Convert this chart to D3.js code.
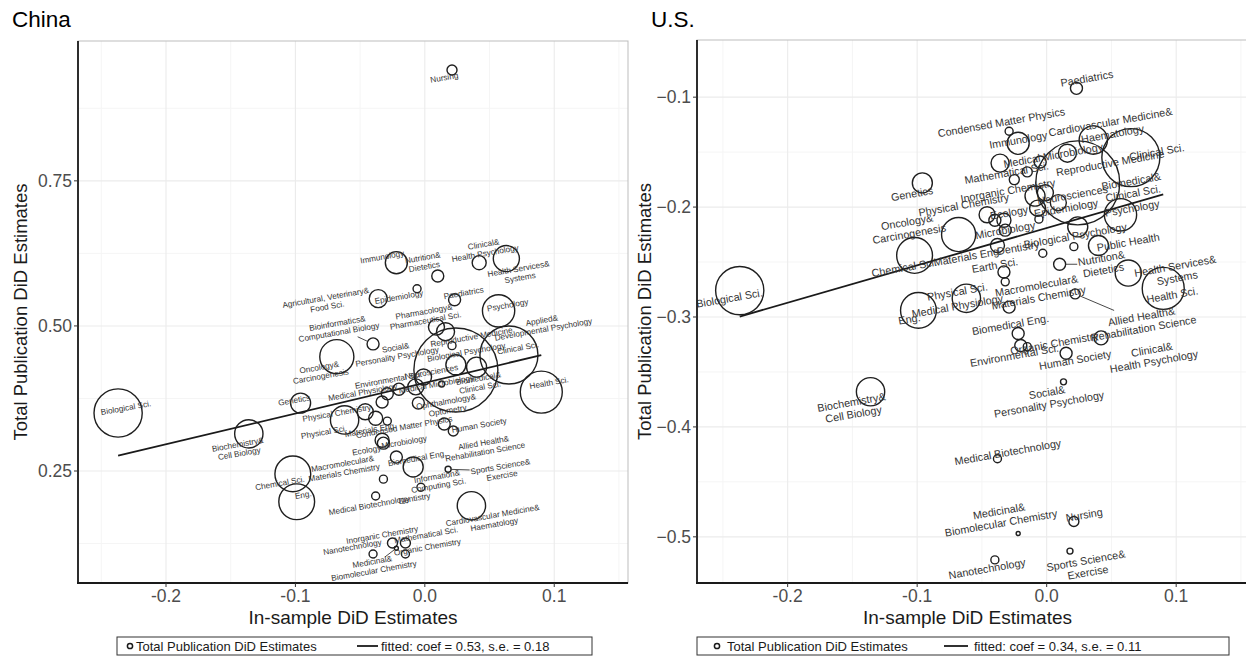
<!DOCTYPE html>
<html><head><meta charset="utf-8">
<script src="https://cdn.jsdelivr.net/npm/d3@7"></script>
<style>
body{margin:0;background:#fff;}
svg text{font-family:"Liberation Sans",Arial,Helvetica,sans-serif;}
</style>
</head><body>
<svg id="chart" width="1246" height="658"></svg>
<script>
// ---------------- DATA ----------------
const fields = [
 "Biological Sci.","Biochemistry& Cell Biology","Chemical Sci.","Eng.","Genetics",
 "Oncology& Carcinogenesis","Physical Sci.","Physical Chemistry","Bioinformatics& Computational Biology","Nanotechnology",
 "Materials Eng.","Medical Biotechnology","Agricultural, Veterinary& Food Sci.","Earth Sci.","Ecology",
 "Microbiology","Macromolecular& Materials Chemistry","Medical Physiology","Condensed Matter Physics","Inorganic Chemistry",
 "Biomedical Eng.","Medicinal& Biomolecular Chemistry","Immunology","Environmental Sci.","Mathematical Sci.",
 "Organic Chemistry","Information& Computing Sci.","Applied& Developmental Psychology","Epidemiology","Ophthalmology& Optometry",
 "Dentistry","Neurosciences","Pharmacology& Pharmaceutical Sci.","Nutrition& Dietetics","Social& Personality Psychology",
 "Human Society","Medical Microbiology","Sports Science& Exercise","Nursing","Reproductive Medicine",
 "Allied Health& Rehabilitation Science","Paediatrics","Biomedical& Clinical Sci.","Biological Psychology","Cardiovascular Medicine& Haematology",
 "Public Health","Clinical& Health Psychology","Psychology","Health Services& Systems","Clinical Sci.",
 "Health Sci."
];
// In-sample DiD estimate (x, shared by both panels)
const inSampleDiD = [
 -0.237,-0.136,-0.102,-0.099,-0.096,
 -0.068,-0.062,-0.046,-0.040,-0.040,
 -0.038,-0.038,-0.036,-0.033,-0.033,
 -0.032,-0.032,-0.029,-0.029,-0.025,
 -0.022,-0.022,-0.022,-0.020,-0.015,
 -0.015,-0.009,-0.007,-0.006,-0.005,
 -0.003,-0.001,0.009,0.010,0.013,
 0.015,0.016,0.018,0.021,0.021,
 0.022,0.023,0.024,0.024,0.036,
 0.040,0.042,0.057,0.063,0.065,
 0.090
];
// publication volume (circle area)
const publications = [
 58,20,32,32,10,
 29,20,6.4,3.6,1.6,
 4.9,1.6,8.1,3.6,4.9,
 3.6,1.6,3.6,1.6,2.5,
 3.6,0.4,12.1,3.6,2.5,
 1.6,10,6.4,1.6,3.6,
 1.6,6.4,6.4,3.6,0.9,
 3.6,8.1,0.9,2.5,1.6,
 2.5,3.6,176,10,20,
 10,4.9,26,17,84,
 44
];
// Total publication DiD estimate (y)
const totalDiDChina = [
 0.350,0.314,0.245,0.197,0.367,
 0.447,0.338,0.352,0.469,0.107,
 0.341,0.207,0.547,0.369,0.303,
 0.298,0.236,0.383,0.336,0.126,
 0.274,0.117,0.609,0.391,0.126,
 0.107,0.257,0.395,0.564,0.367,
 0.222,0.412,0.498,0.586,0.400,
 0.331,0.490,0.253,0.941,0.466,
 0.319,0.545,0.424,0.433,0.190,
 0.429,0.609,0.526,0.616,0.450,
 0.386
];
const totalDiDUS = [
 -0.276,-0.368,-0.244,-0.294,-0.178,
 -0.225,-0.283,-0.207,-0.212,-0.521,
 -0.235,-0.429,-0.160,-0.259,-0.212,
 -0.221,-0.268,-0.291,-0.131,-0.175,
 -0.315,-0.497,-0.142,-0.326,-0.168,
 -0.327,-0.190,-0.201,-0.211,-0.159,
 -0.242,-0.187,-0.196,-0.252,-0.359,
 -0.333,-0.151,-0.513,-0.486,-0.236,
 -0.279,-0.092,-0.178,-0.218,-0.139,
 -0.235,-0.319,-0.207,-0.260,-0.155,
 -0.274
];
// repelled label anchors (data units); null = label dropped
const labelChina = [
 [-0.231,0.359],[-0.144,0.288],[-0.112,0.229],[-0.094,0.209],[-0.101,0.372],
 [-0.081,0.421],[-0.078,0.317],[-0.068,0.350],[-0.067,0.497],[-0.056,0.119],
 [-0.042,0.321],[-0.043,0.191],[-0.076,0.541],null,[-0.045,0.286],
 [-0.016,0.300],[-0.063,0.255],[-0.048,0.386],[-0.016,0.326],[-0.033,0.140],
 [-0.006,0.272],[-0.040,0.086],[-0.033,0.619],[-0.028,0.407],[0.001,0.140],
 [0.002,0.119],[0.010,0.233],[0.091,0.502],[-0.020,0.550],[0.017,0.362],
 [-0.008,0.203],[0.005,0.421],[0.000,0.517],[-0.001,0.610],[-0.022,0.455],
 [0.042,0.329],[0.009,0.400],[0.059,0.250],[0.015,0.928],[0.036,0.481],
 [0.046,0.291],[0.030,0.557],[0.042,0.402],[0.032,0.455],[0.053,0.166],
 null,[0.046,0.633],[0.064,0.536],[0.073,0.591],[0.072,0.462],
 [0.096,0.402]
];
const labelUS = [
 [-0.245,-0.283],[-0.150,-0.383],[-0.110,-0.255],[-0.106,-0.302],[-0.104,-0.188],
 [-0.107,-0.219],[-0.069,-0.277],[-0.064,-0.198],null,[-0.046,-0.529],
 [-0.061,-0.245],[-0.030,-0.423],null,[-0.040,-0.253],[-0.029,-0.205],
 [-0.032,-0.221],[-0.007,-0.277],[-0.069,-0.290],[-0.035,-0.123],[-0.030,-0.185],
 [-0.028,-0.307],[-0.036,-0.482],[-0.022,-0.139],[-0.025,-0.335],[-0.031,-0.169],
 [0.006,-0.324],null,null,[0.015,-0.201],null,
 [-0.022,-0.237],[0.020,-0.189],null,[0.043,-0.252],[0.001,-0.374],
 [0.022,-0.339],[0.005,-0.153],[0.031,-0.527],[0.029,-0.480],[0.049,-0.160],
 [0.074,-0.305],[0.031,-0.083],[0.066,-0.182],[0.022,-0.226],[0.050,-0.128],
 [0.063,-0.232],[0.082,-0.335],[0.066,-0.201],[0.100,-0.259],[0.085,-0.150],
 [0.097,-0.280]
];
const segmentsChina = ["Sports Science& Exercise","Medicinal& Biomolecular Chemistry","Bioinformatics& Computational Biology"];
const segmentsUS = ["Nutrition& Dietetics","Allied Health& Rehabilitation Science","Oncology& Carcinogenesis","Biomedical& Clinical Sci."];
const fitChina = {coef:0.53, se:0.18, intercept:0.402};
const fitUS = {coef:0.34, se:0.11, intercept:-0.219};
const xTicks = [-0.2,-0.1,0.0,0.1];
const yTicksChina = [0.25,0.50,0.75];
const yTicksUS = [-0.5,-0.4,-0.3,-0.2,-0.1];
const titles = ["China","U.S."];
const xTitle = "In-sample DiD Estimates";
const yTitle = "Total Publication DiD Estimates";
const legendPoint = "Total Publication DiD Estimates";

// ---------------- DRAW ----------------
const svg = d3.select("#chart");
const rScale = d3.scaleSqrt().domain([0, d3.max(publications)]).range([0, 42]);

function drawPanel(cfg){
  const g = svg.append("g");
  const x = d3.scaleLinear().domain(cfg.xDomain).range([cfg.left, cfg.right]);
  const y = d3.scaleLinear().domain(cfg.yDomain).range([cfg.bottom, cfg.top]);
  const id = "clip"+cfg.key;
  svg.append("defs").append("clipPath").attr("id",id).append("rect")
     .attr("x",cfg.left).attr("y",cfg.top).attr("width",cfg.right-cfg.left).attr("height",cfg.bottom-cfg.top);
  const plot = g.append("g").attr("clip-path",`url(#${id})`);

  // grid
  const xMinor = xTicks.map(t=>t-0.05).concat([xTicks[xTicks.length-1]+0.05]);
  const yStep = cfg.yTicks[1]-cfg.yTicks[0];
  const yMinor = cfg.yTicks.map(t=>t-yStep/2).concat([cfg.yTicks[cfg.yTicks.length-1]+yStep/2])
        .filter(v=>v>cfg.yDomain[0] && v<cfg.yDomain[1]-0.005);
  plot.selectAll(".gxm").data(xMinor).join("line").attr("x1",d=>x(d)).attr("x2",d=>x(d))
     .attr("y1",cfg.top).attr("y2",cfg.bottom).attr("stroke","#f5f5f5").attr("stroke-width",1);
  plot.selectAll(".gym").data(yMinor).join("line").attr("y1",d=>y(d)).attr("y2",d=>y(d))
     .attr("x1",cfg.left).attr("x2",cfg.right).attr("stroke","#f5f5f5").attr("stroke-width",1);
  plot.selectAll(".gx").data(xTicks).join("line").attr("x1",d=>x(d)).attr("x2",d=>x(d))
     .attr("y1",cfg.top).attr("y2",cfg.bottom).attr("stroke","#ebebeb").attr("stroke-width",1.1);
  plot.selectAll(".gy").data(cfg.yTicks).join("line").attr("y1",d=>y(d)).attr("y2",d=>y(d))
     .attr("x1",cfg.left).attr("x2",cfg.right).attr("stroke","#ebebeb").attr("stroke-width",1.1);

  // panel border (top/right light)
  g.append("rect").attr("x",cfg.left).attr("y",cfg.top).attr("width",cfg.right-cfg.left)
    .attr("height",cfg.bottom-cfg.top).attr("fill","none").attr("stroke","#bdbdbd").attr("stroke-width",1);

  // fitted line
  const xe = d3.extent(inSampleDiD);
  plot.append("line").attr("x1",x(xe[0])).attr("y1",y(cfg.fit.intercept+cfg.fit.coef*xe[0]))
     .attr("x2",x(xe[1])).attr("y2",y(cfg.fit.intercept+cfg.fit.coef*xe[1]))
     .attr("stroke","#1a1a1a").attr("stroke-width",1.8);

  // points
  const data = fields.map((f,i)=>({name:f,x:inSampleDiD[i],y:cfg.values[i],r:rScale(publications[i]),lab:cfg.labels[i]}));
  plot.selectAll(".pt").data(data).join("circle")
     .attr("cx",d=>x(d.x)).attr("cy",d=>y(d.y)).attr("r",d=>Math.max(1.6,d.r))
     .attr("fill","none").attr("stroke","#1f1f1f").attr("stroke-width",1.4);

  // labels
  const labs = data.filter(d=>d.lab);
  labs.forEach(d=>{
    const lines = d.name.split(/(?<=&) /);
    const lx = x(d.lab[0]), ly = y(d.lab[1]);
    const lg = plot.append("g").attr("transform",`translate(${lx},${ly}) rotate(${cfg.angle})`);
    const t = lg.append("text").attr("text-anchor","middle").attr("font-size",cfg.labelSize)
       .attr("fill","#333");
    const lh = cfg.labelSize*1.12;
    lines.forEach((ln,k)=>{
      t.append("tspan").attr("x",0).attr("y",(k-(lines.length-1)/2)*lh + cfg.labelSize*0.35).text(ln);
    });
    if(cfg.segments.includes(d.name)){
      const px = x(d.x), py = y(d.y);
      const bb = t.node().getBBox();
      const dx = lx-px, dy = ly-py, dist = Math.hypot(dx,dy);
      const ux = dx/dist, uy = dy/dist;
      const sx = Math.abs(ux)>1e-6 ? (bb.width/2+1)/Math.abs(ux) : 1e9;
      const sy = Math.abs(uy)>1e-6 ? (bb.height/2)/Math.abs(uy) : 1e9;
      const back = Math.min(sx,sy);
      const r = Math.max(1.6,d.r);
      if(dist-back > r+1){
        plot.append("line").attr("x1",px+ux*r).attr("y1",py+uy*r)
          .attr("x2",lx-ux*back).attr("y2",ly-uy*back)
          .attr("stroke","#333").attr("stroke-width",0.9);
      }
    }
  });

  // axes lines
  g.append("line").attr("x1",cfg.left).attr("x2",cfg.left).attr("y1",cfg.top).attr("y2",cfg.bottom+1)
    .attr("stroke","#1a1a1a").attr("stroke-width",1.8);
  g.append("line").attr("x1",cfg.left-1).attr("x2",cfg.right).attr("y1",cfg.bottom).attr("y2",cfg.bottom)
    .attr("stroke","#1a1a1a").attr("stroke-width",1.8);

  // ticks
  g.selectAll(".ty").data(cfg.yTicks).join("line").attr("x1",cfg.left-4).attr("x2",cfg.left)
    .attr("y1",d=>y(d)).attr("y2",d=>y(d)).attr("stroke","#333").attr("stroke-width",1);
  g.selectAll(".tyl").data(cfg.yTicks).join("text").attr("x",cfg.left-6).attr("y",d=>y(d)+6)
    .attr("text-anchor","end").attr("font-size",17.5).attr("fill","#4d4d4d")
    .text(d=>cfg.yFormat(d));
  g.selectAll(".tx").data(xTicks).join("line").attr("y1",cfg.bottom).attr("y2",cfg.bottom+4)
    .attr("x1",d=>x(d)).attr("x2",d=>x(d)).attr("stroke","#333").attr("stroke-width",1);
  g.selectAll(".txl").data(xTicks).join("text").attr("x",d=>x(d)).attr("y",cfg.bottom+19)
    .attr("text-anchor","middle").attr("font-size",17.5).attr("fill","#4d4d4d")
    .text(d=>d3.format(".1f")(d).replace("−","-"));

  // titles
  g.append("text").attr("x",cfg.titleX).attr("y",27).attr("font-size",22.5).attr("fill","#000").text(cfg.title);
  g.append("text").attr("x",(cfg.left+Math.min(cfg.right,1246))/2 - (cfg.key==="US"?4:0)).attr("y",cfg.bottom+41)
    .attr("text-anchor","middle").attr("font-size",19).attr("fill","#1a1a1a").text(xTitle);
  g.append("text").attr("transform",`translate(${cfg.yTitleX},${(cfg.top+cfg.bottom)/2}) rotate(-90)`)
    .attr("text-anchor","middle").attr("font-size",18.5).attr("fill","#1a1a1a").text(yTitle);

  // legend
  const L = cfg.legend;
  const lgd = g.append("g");
  lgd.append("rect").attr("x",L.x).attr("y",637).attr("width",L.w).attr("height",18)
    .attr("fill","#fff").attr("stroke","#333").attr("stroke-width",1);
  lgd.append("circle").attr("cx",L.x+L.c).attr("cy",646).attr("r",2.6).attr("fill","none")
    .attr("stroke","#1a1a1a").attr("stroke-width",1.5);
  lgd.append("text").attr("x",L.x+L.t1).attr("y",651).attr("font-size",13).attr("fill","#1a1a1a").text(legendPoint);
  lgd.append("line").attr("x1",L.x+L.l1).attr("x2",L.x+L.l2).attr("y1",646).attr("y2",646)
    .attr("stroke","#1a1a1a").attr("stroke-width",1.8);
  lgd.append("text").attr("x",L.x+L.t2).attr("y",651).attr("font-size",13).attr("fill","#1a1a1a")
    .text(`fitted: coef = ${cfg.fit.coef.toFixed(2)}, s.e. = ${cfg.fit.se.toFixed(2)}`);
}

drawPanel({key:"CN", title:titles[0], titleX:12, left:78, right:628, top:41, bottom:583,
  xDomain:[-0.268,0.157], yDomain:[0.057,0.991], yTicks:yTicksChina, yFormat:d3.format(".2f"),
  values:totalDiDChina, labels:labelChina, segments:segmentsChina, fit:fitChina,
  labelSize:8.2, angle:-10, yTitleX:27,
  legend:{x:117,w:475,c:13,t1:19,l1:240,l2:261,t2:264}});
drawPanel({key:"US", title:titles[1], titleX:651, left:697, right:1250, top:40, bottom:583,
  xDomain:[-0.270,0.157], yDomain:[-0.542,-0.048], yTicks:yTicksUS, yFormat:d3.format(".1f"),
  values:totalDiDUS, labels:labelUS, segments:segmentsUS, fit:fitUS,
  labelSize:10.8, angle:-10, yTitleX:651,
  legend:{x:697,w:532,c:20,t1:30,l1:247,l2:271,t2:277}});
</script>
</body></html>
